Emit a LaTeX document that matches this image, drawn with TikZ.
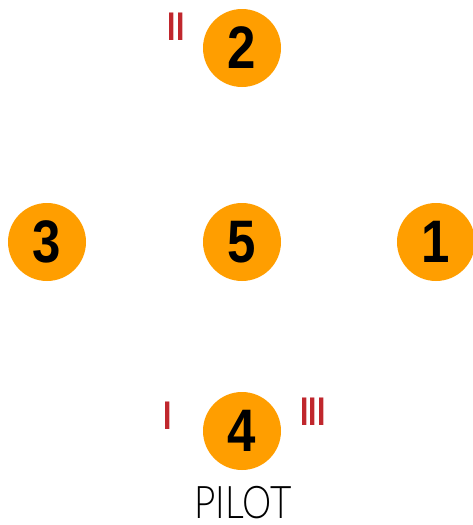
\documentclass[tikz,border=0pt]{standalone}
\usepackage{fontspec}
\setmainfont{Liberation Sans}
\newfontfamily\digitfont{Liberation Sans}
\newfontfamily\pilotfont{Lato}[UprightFont=* Light]
\definecolor{orng}{HTML}{FF9E00}
\definecolor{rd}{HTML}{C0272D}
\newcommand{\dig}[1]{\scalebox{0.85}[1]{#1}}
\begin{document}
\begin{tikzpicture}[x=1pt,y=-1pt,
  disc/.style={circle,fill=orng,minimum size=78pt,inner sep=0pt,
    font=\digitfont\bfseries\fontsize{60}{60}\selectfont,text=black},
  roman/.style={text=rd,font=\bfseries\fontsize{40}{40}\selectfont,inner sep=0pt,anchor=base}]
\useasboundingbox (0,0) rectangle (473,525);
\node[disc] (n2) at (242,48) {\dig{2}};
\node[disc] (n3) at (47,242) {\dig{3}};
\node[disc] (n5) at (242,242) {\dig{5}};
\node[disc] (n1) at (436,242) {\dig{1}};
\node[disc] (n4) at (242,431) {\dig{4}};
\node[roman] (r2) at (176,40) {\scalebox{0.75}[1]{II}};
\node[roman] (r1) at (168,429) {\scalebox{0.75}[1]{I}};
\node[roman] (r3) at (313,425) {\scalebox{0.75}[1]{III}};
\node[font=\pilotfont\fontsize{45}{45}\selectfont,inner sep=0pt,anchor=base] (pilot) at (243,518) {\scalebox{0.82}[1]{PILOT}};
\end{tikzpicture}
\end{document}
